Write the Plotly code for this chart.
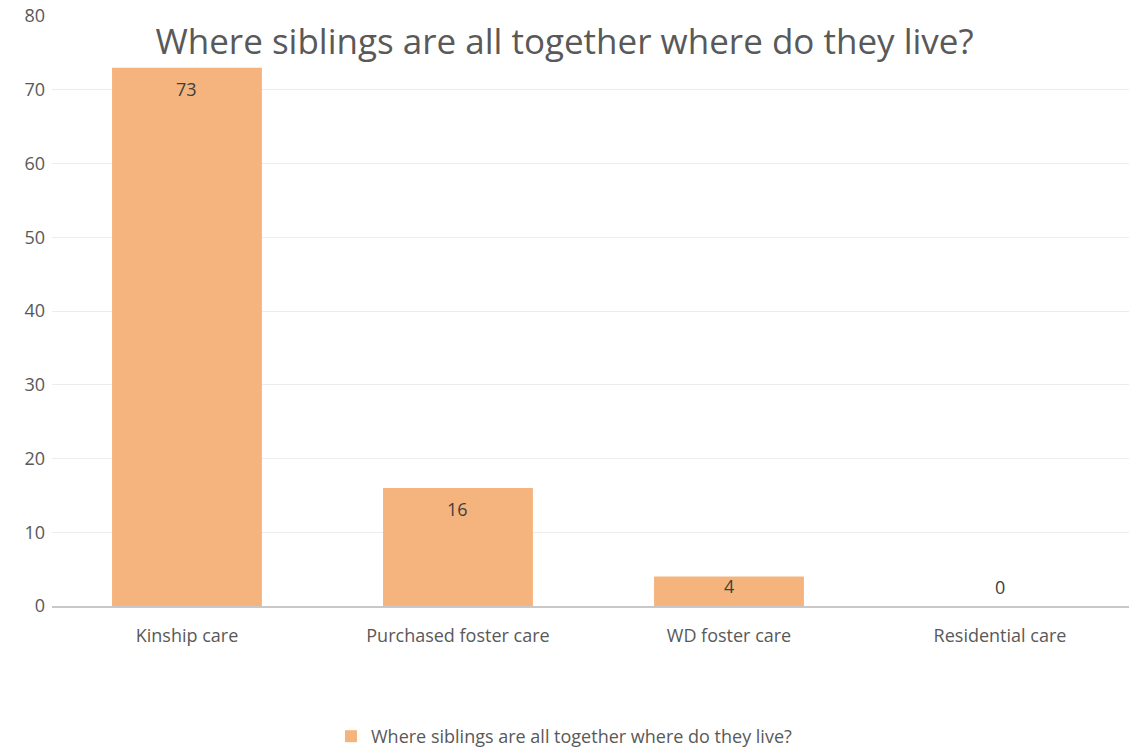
import plotly.graph_objects as go

categories = ["Kinship care", "Purchased foster care", "WD foster care", "Residential care"]
values = [73, 16, 4, 0]
series_name = "Where siblings are all together where do they live?"
title_text = "Where siblings are all together where do they live?"
y_ticks = [0, 10, 20, 30, 40, 50, 60, 70, 80]

FONT = "Open Sans"
BAR = "#F5B47D"
W, H = 1129, 755
M_L, M_R, M_T, M_B = 52, 0, 16, 149
Y_MAX = 80
plot_h = H - M_T - M_B

fig = go.Figure()
fig.add_trace(go.Bar(
    x=categories,
    y=values,
    name=series_name,
    marker=dict(color=BAR, line=dict(width=0)),
    width=0.553,
    showlegend=True,
    hoverinfo="x+y",
))

# data labels (Excel "inside end" style)
for c, v in zip(categories, values):
    bar_px = v * plot_h / Y_MAX
    if v > 0:
        shift = -min(21, bar_px - 20)
    else:
        shift = 19
    fig.add_annotation(
        x=c, y=v, xref="x", yref="y",
        text=str(v), showarrow=False,
        yanchor="middle", yshift=shift,
        font=dict(family=FONT, size=18, color="#404040"),
    )

fig.update_layout(
    width=W,
    height=H,
    margin=dict(l=M_L, r=M_R, t=M_T, b=M_B, autoexpand=False),
    paper_bgcolor="white",
    plot_bgcolor="white",
    font=dict(family=FONT, size=18, color="#595959"),
    title=dict(
        text=title_text,
        x=0.5,
        xanchor="center",
        xref="container",
        y=1 - 42 / H,
        yanchor="middle",
        yref="container",
        font=dict(family=FONT, size=35, color="#595959"),
    ),
    showlegend=True,
    legend=dict(
        orientation="h",
        x=0.5,
        xanchor="center",
        xref="container",
        y=-6 / H,
        yanchor="bottom",
        yref="container",
        font=dict(family=FONT, size=18, color="#595959"),
        itemwidth=30,
        tracegroupgap=0,
    ),
    xaxis=dict(
        range=[-0.498, 3.476],
        showgrid=False,
        showline=True,
        linecolor="#C8C8C8",
        linewidth=2,
        ticks="",
        tickfont=dict(family=FONT, size=18, color="#595959"),
        ticklabelstandoff=12,
    ),
    yaxis=dict(
        range=[0, Y_MAX],
        tickvals=y_ticks,
        showgrid=True,
        gridcolor="#ECECEC",
        gridwidth=1,
        zeroline=False,
        showline=False,
        ticks="",
        tickfont=dict(family=FONT, size=18, color="#595959"),
        ticklabelstandoff=6,
    ),
)

fig.write_html("out.html")
